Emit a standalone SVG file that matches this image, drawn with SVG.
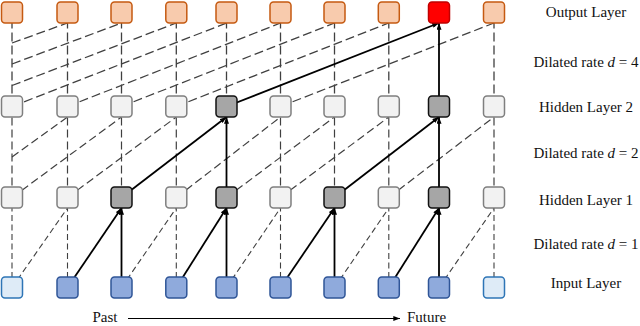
<svg xmlns="http://www.w3.org/2000/svg" width="640" height="326" viewBox="0 0 640 326">
<defs>
<style>
.n rect{stroke-width:1.5}
.out{fill:#F8CBAD;stroke:#C55A11}
.red{fill:#FF0000;stroke:#C00000}
.hl{fill:#F2F2F2;stroke:#7F7F7F}
.hd{fill:#A6A6A6;stroke:#111}
.in{fill:#8FAADC;stroke:#2F5597}
.inl{fill:#DEEBF7;stroke:#2E75B6}
.d4{stroke:#404040;stroke-width:1.3;stroke-dasharray:9 4;fill:none}
.d2{stroke:#404040;stroke-width:1.2;stroke-dasharray:8 4;fill:none}
.d1{stroke:#404040;stroke-width:1.1;stroke-dasharray:6 3.5;fill:none}
.s{stroke:#000;stroke-width:1.8;fill:none;marker-end:url(#ah)}
.lbl{font-family:"Liberation Serif","Times New Roman",serif;font-size:15px;fill:#111;text-anchor:middle}
</style>
<marker id="ah" viewBox="0 0 8 6" refX="8" refY="3" markerWidth="7" markerHeight="5" markerUnits="userSpaceOnUse" orient="auto">
<path d="M0,0 L8,3 L0,6 z" fill="#000"/>
</marker>
<marker id="ah2" viewBox="0 0 8 6" refX="8" refY="3" markerWidth="7" markerHeight="5" markerUnits="userSpaceOnUse" orient="auto">
<path d="M0,0 L8,3 L0,6 z" fill="#000"/>
</marker>
</defs>
<g id="connectors">
<line class="d4" x1="12" y1="106.5" x2="12" y2="23"/>
<line class="d4" x1="67.5" y1="106.5" x2="67.5" y2="23"/>
<line class="d4" x1="121.5" y1="106.5" x2="121.5" y2="23"/>
<line class="d4" x1="176.3" y1="106.5" x2="176.3" y2="23"/>
<line class="d4" x1="226.5" y1="106.5" x2="226.5" y2="23"/>
<line class="d4" x1="280.5" y1="106.5" x2="280.5" y2="23"/>
<line class="d4" x1="334.5" y1="106.5" x2="334.5" y2="23"/>
<line class="d4" x1="388.8" y1="106.5" x2="388.8" y2="23"/>
<line class="d4" x1="494" y1="106.5" x2="494" y2="23"/>
<line class="d4" x1="12" y1="43" x2="67.5" y2="23"/>
<line class="d4" x1="12" y1="64" x2="121.5" y2="23"/>
<line class="d4" x1="12" y1="85.5" x2="176.3" y2="23"/>
<line class="d4" x1="12" y1="106.5" x2="226.5" y2="23"/>
<line class="d4" x1="67.5" y1="106.5" x2="280.5" y2="23"/>
<line class="d4" x1="121.5" y1="106.5" x2="334.5" y2="23"/>
<line class="d4" x1="176.3" y1="106.5" x2="388.8" y2="23"/>
<line class="d4" x1="280.5" y1="106.5" x2="494" y2="23"/>
<line class="d2" x1="12" y1="197.5" x2="12" y2="117"/>
<line class="d2" x1="67.5" y1="197.5" x2="67.5" y2="117"/>
<line class="d2" x1="121.5" y1="197.5" x2="121.5" y2="117"/>
<line class="d2" x1="176.3" y1="197.5" x2="176.3" y2="117"/>
<line class="d2" x1="280.5" y1="197.5" x2="280.5" y2="117"/>
<line class="d2" x1="334.5" y1="197.5" x2="334.5" y2="117"/>
<line class="d2" x1="388.8" y1="197.5" x2="388.8" y2="117"/>
<line class="d2" x1="494" y1="197.5" x2="494" y2="117"/>
<line class="d2" x1="12" y1="157" x2="67.5" y2="117"/>
<line class="d2" x1="12" y1="197.5" x2="121.5" y2="117"/>
<line class="d2" x1="67.5" y1="197.5" x2="176.3" y2="117"/>
<line class="d2" x1="176.3" y1="197.5" x2="280.5" y2="117"/>
<line class="d2" x1="226.5" y1="197.5" x2="334.5" y2="117"/>
<line class="d2" x1="280.5" y1="197.5" x2="388.8" y2="117"/>
<line class="d2" x1="388.8" y1="197.5" x2="494" y2="117"/>
<line class="d1" x1="12" y1="287.5" x2="12" y2="208"/>
<line class="d1" x1="67.5" y1="287.5" x2="67.5" y2="208"/>
<line class="d1" x1="176.3" y1="287.5" x2="176.3" y2="208"/>
<line class="d1" x1="280.5" y1="287.5" x2="280.5" y2="208"/>
<line class="d1" x1="388.8" y1="287.5" x2="388.8" y2="208"/>
<line class="d1" x1="494" y1="287.5" x2="494" y2="208"/>
<line class="d1" x1="12" y1="287.5" x2="67.5" y2="208"/>
<line class="d1" x1="121.5" y1="287.5" x2="176.3" y2="208"/>
<line class="d1" x1="226.5" y1="287.5" x2="280.5" y2="208"/>
<line class="d1" x1="334.5" y1="287.5" x2="388.8" y2="208"/>
<line class="d1" x1="439" y1="287.5" x2="494" y2="208"/>
<line class="s" x1="67.5" y1="287.5" x2="121.5" y2="208"/>
<line class="s" x1="121.5" y1="287.5" x2="121.5" y2="208"/>
<line class="s" x1="176.3" y1="287.5" x2="226.5" y2="208"/>
<line class="s" x1="226.5" y1="287.5" x2="226.5" y2="208"/>
<line class="s" x1="280.5" y1="287.5" x2="334.5" y2="208"/>
<line class="s" x1="334.5" y1="287.5" x2="334.5" y2="208"/>
<line class="s" x1="388.8" y1="287.5" x2="439" y2="208"/>
<line class="s" x1="439" y1="287.5" x2="439" y2="208"/>
<line class="s" x1="121.5" y1="197.5" x2="226.5" y2="117"/>
<line class="s" x1="226.5" y1="197.5" x2="226.5" y2="117"/>
<line class="s" x1="334.5" y1="197.5" x2="439" y2="117"/>
<line class="s" x1="439" y1="197.5" x2="439" y2="117"/>
<line class="s" x1="226.5" y1="106.5" x2="439" y2="23"/>
<line class="s" x1="439" y1="106.5" x2="439" y2="23"/>
<line x1="128" y1="318.5" x2="400" y2="318.5" stroke="#000" stroke-width="1" marker-end="url(#ah2)"/>
</g>
<g id="output-layer" class="n">
<rect id="o0" class="out" x="1.5" y="2" width="21" height="21" rx="3.5"/>
<rect id="o1" class="out" x="57" y="2" width="21" height="21" rx="3.5"/>
<rect id="o2" class="out" x="111" y="2" width="21" height="21" rx="3.5"/>
<rect id="o3" class="out" x="165.8" y="2" width="21" height="21" rx="3.5"/>
<rect id="o4" class="out" x="216" y="2" width="21" height="21" rx="3.5"/>
<rect id="o5" class="out" x="270" y="2" width="21" height="21" rx="3.5"/>
<rect id="o6" class="out" x="324" y="2" width="21" height="21" rx="3.5"/>
<rect id="o7" class="out" x="378.3" y="2" width="21" height="21" rx="3.5"/>
<rect id="o8" class="red" x="428.5" y="2" width="21" height="21" rx="3.5"/>
<rect id="o9" class="out" x="483.5" y="2" width="21" height="21" rx="3.5"/>
</g>
<g id="hidden-layer-2" class="n">
<rect id="h2_0" class="hl" x="1.5" y="96" width="21" height="21" rx="3.5"/>
<rect id="h2_1" class="hl" x="57" y="96" width="21" height="21" rx="3.5"/>
<rect id="h2_2" class="hl" x="111" y="96" width="21" height="21" rx="3.5"/>
<rect id="h2_3" class="hl" x="165.8" y="96" width="21" height="21" rx="3.5"/>
<rect id="h2_4" class="hd" x="216" y="96" width="21" height="21" rx="3.5"/>
<rect id="h2_5" class="hl" x="270" y="96" width="21" height="21" rx="3.5"/>
<rect id="h2_6" class="hl" x="324" y="96" width="21" height="21" rx="3.5"/>
<rect id="h2_7" class="hl" x="378.3" y="96" width="21" height="21" rx="3.5"/>
<rect id="h2_8" class="hd" x="428.5" y="96" width="21" height="21" rx="3.5"/>
<rect id="h2_9" class="hl" x="483.5" y="96" width="21" height="21" rx="3.5"/>
</g>
<g id="hidden-layer-1" class="n">
<rect id="h1_0" class="hl" x="1.5" y="187" width="21" height="21" rx="3.5"/>
<rect id="h1_1" class="hl" x="57" y="187" width="21" height="21" rx="3.5"/>
<rect id="h1_2" class="hd" x="111" y="187" width="21" height="21" rx="3.5"/>
<rect id="h1_3" class="hl" x="165.8" y="187" width="21" height="21" rx="3.5"/>
<rect id="h1_4" class="hd" x="216" y="187" width="21" height="21" rx="3.5"/>
<rect id="h1_5" class="hl" x="270" y="187" width="21" height="21" rx="3.5"/>
<rect id="h1_6" class="hd" x="324" y="187" width="21" height="21" rx="3.5"/>
<rect id="h1_7" class="hl" x="378.3" y="187" width="21" height="21" rx="3.5"/>
<rect id="h1_8" class="hd" x="428.5" y="187" width="21" height="21" rx="3.5"/>
<rect id="h1_9" class="hl" x="483.5" y="187" width="21" height="21" rx="3.5"/>
</g>
<g id="input-layer" class="n">
<rect id="i0" class="inl" x="1.5" y="277" width="21" height="21" rx="3.5"/>
<rect id="i1" class="in" x="57" y="277" width="21" height="21" rx="3.5"/>
<rect id="i2" class="in" x="111" y="277" width="21" height="21" rx="3.5"/>
<rect id="i3" class="in" x="165.8" y="277" width="21" height="21" rx="3.5"/>
<rect id="i4" class="in" x="216" y="277" width="21" height="21" rx="3.5"/>
<rect id="i5" class="in" x="270" y="277" width="21" height="21" rx="3.5"/>
<rect id="i6" class="in" x="324" y="277" width="21" height="21" rx="3.5"/>
<rect id="i7" class="in" x="378.3" y="277" width="21" height="21" rx="3.5"/>
<rect id="i8" class="in" x="428.5" y="277" width="21" height="21" rx="3.5"/>
<rect id="i9" class="inl" x="483.5" y="277" width="21" height="21" rx="3.5"/>
</g>
<g id="labels">
<text class="lbl" x="586" y="16.5">Output Layer</text>
<text class="lbl" x="586" y="67">Dilated rate <tspan font-style="italic">d</tspan> = 4</text>
<text class="lbl" x="586" y="111.5">Hidden Layer 2</text>
<text class="lbl" x="586" y="158">Dilated rate <tspan font-style="italic">d</tspan> = 2</text>
<text class="lbl" x="586" y="205">Hidden Layer 1</text>
<text class="lbl" x="586" y="249">Dilated rate <tspan font-style="italic">d</tspan> = 1</text>
<text class="lbl" x="586" y="288">Input Layer</text>
<text class="lbl" x="105" y="322">Past</text>
<text class="lbl" x="426.5" y="322">Future</text>
</g>
</svg>
